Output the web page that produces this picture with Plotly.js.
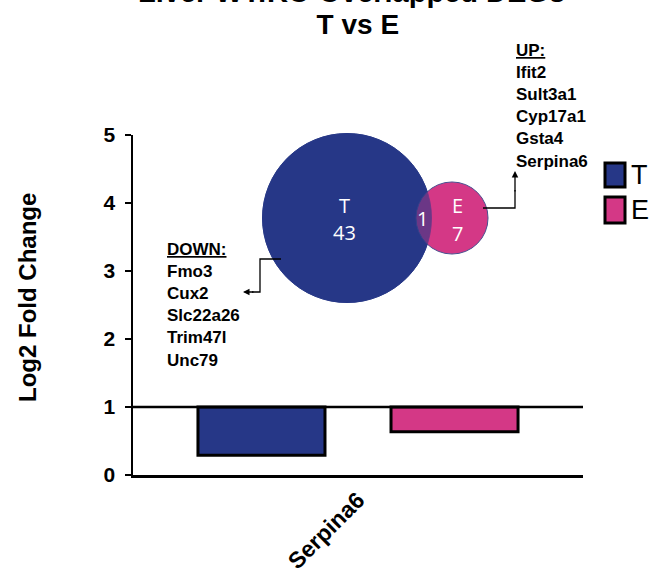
<!DOCTYPE html>
<html>
<head>
<meta charset="utf-8">
<script src="https://cdn.plot.ly/plotly-3.0.1.min.js"></script>
<style>html,body{margin:0;padding:0;background:#fff;}#chart{width:653px;height:574px;}</style>
</head>
<body>
<div id="chart"></div>
<script>
// ---- data ----
const categories = ['Serpina6'];
const seriesNames = ['T', 'E'];
const tValues = [0.29];
const eValues = [0.635];
const baselineValue = 1;
const yTickVals = [0, 1, 2, 3, 4, 5];
const vennOnly = [43, 7];
const vennOverlap = 1;
const upGenes = ['Ifit2', 'Sult3a1', 'Cyp17a1', 'Gsta4', 'Serpina6'];
const downGenes = ['Fmo3', 'Cux2', 'Slc22a26', 'Trim47l', 'Unc79'];
const titleLine1 = 'Liver WT:KO Overlapped DEGs';
const titleLine2 = 'T vs E';
const yTitle = 'Log2 Fold Change';

// ---- style ----
const navy = '#263787';
const pink = '#d43886';
const bold = 'Liberation Sans, Arial, sans-serif';
const M = {l: 133, r: 70, t: 135, b: 99};
const W = 653 - M.l - M.r, H = 574 - M.t - M.b;
const pxX = p => (p - M.l) / W;
const pxY = p => (574 - M.b - p) / H;

const traces = [
  {type: 'bar', name: seriesNames[0], x: categories, base: tValues, y: tValues.map(v => baselineValue - v),
   marker: {color: navy, line: {color: '#000', width: 3}}, showlegend: false, hoverinfo: 'skip'},
  {type: 'bar', name: seriesNames[1], x: categories, base: eValues, y: eValues.map(v => baselineValue - v),
   marker: {color: pink, line: {color: '#000', width: 3}}, showlegend: false, hoverinfo: 'skip'}
];

// venn radii proportional to sqrt of set size
const k = 84.5 / Math.sqrt(vennOnly[0] + vennOverlap);
const rT = k * Math.sqrt(vennOnly[0] + vennOverlap);
const rE = k * Math.sqrt(vennOnly[1] + vennOverlap);
const cT = [347, 218], cE = [452, 218];
function circ(c, r, fill, line, lw, op) {
  return {type: 'circle', xref: 'paper', yref: 'paper', xsizemode: 'pixel', ysizemode: 'pixel',
    xanchor: pxX(c[0]), yanchor: pxY(c[1]), x0: -r, x1: r, y0: -r, y1: r,
    fillcolor: fill, opacity: op, line: {color: line, width: lw}};
}
function rect(x0, y0, x1, y1, fill) {
  return {type: 'rect', xref: 'paper', yref: 'paper', x0: pxX(x0), x1: pxX(x1), y0: pxY(y0), y1: pxY(y1),
    fillcolor: fill, line: {color: '#000', width: 3}};
}
function path(pts) {
  return {type: 'path', xref: 'paper', yref: 'paper',
    path: pts.map((p, i) => (i ? 'L' : 'M') + pxX(p[0]) + ',' + pxY(p[1])).join(' '),
    line: {color: '#000', width: 1.3}};
}

const shapes = [
  {type: 'line', xref: 'paper', yref: 'y', x0: 0, x1: 1, y0: baselineValue, y1: baselineValue,
   line: {color: '#000', width: 2.5}, layer: 'above'},
  circ(cT, rT, navy, navy, 1, 1),
  circ(cE, rE, pink, '#4a4f8f', 1, 1),
  circ(cT, rT, navy, navy, 0.8, 0.6),
  path([[483, 208], [515, 208], [515, 190]]),
  path([[281, 259], [260, 259], [260, 292], [252, 292]]),
  rect(605, 163, 625, 187, navy),
  rect(605, 197, 625, 223, pink)
];

function txt(t, x, y, size, color, family, extra) {
  return Object.assign({text: t, xref: 'paper', yref: 'paper', x: pxX(x), y: pxY(y), showarrow: false,
    xanchor: 'center', yanchor: 'middle',
    font: {size: size, color: color, family: family}}, extra || {});
}
const vf = 'Open Sans, sans-serif';
const annotations = [
  txt('<b>' + titleLine1 + '</b>', 351, -8, 29, '#000', bold),
  txt('<b>' + yTitle + '</b>', 27, 298, 24, '#000', bold, {textangle: -90}),
  txt(seriesNames[0], 344, 205, 20, '#fff', vf),
  txt(String(vennOnly[0]), 344, 232, 20, '#fff', vf),
  txt(String(vennOverlap), 422, 218, 20, '#fff', vf),
  txt(seriesNames[1], 457, 205, 20, '#fff', vf),
  txt(String(vennOnly[1]), 457, 233, 20, '#fff', vf),
  txt('<b><u>UP:</u><br>' + upGenes.join('<br>') + '</b>', 514, 106, 17, '#000', bold, {xanchor: 'left', align: 'left'}),
  txt('<b><u>DOWN:</u><br>' + downGenes.join('<br>') + '</b>', 165, 305, 17, '#000', bold, {xanchor: 'left', align: 'left'}),
  txt(seriesNames[0], 629, 175, 27, '#000', bold, {xanchor: 'left'}),
  txt(seriesNames[1], 629, 210, 27, '#000', bold, {xanchor: 'left'}),
  {text: '', xref: 'paper', yref: 'paper', x: pxX(515), y: pxY(171), showarrow: true, axref: 'pixel', ayref: 'pixel',
   ax: 0, ay: 22, arrowhead: 2, arrowsize: 1, arrowwidth: 1.3, arrowcolor: '#000'},
  {text: '', xref: 'paper', yref: 'paper', x: pxX(243), y: pxY(292), showarrow: true, axref: 'pixel', ayref: 'pixel',
   ax: 12, ay: 0, arrowhead: 2, arrowsize: 1, arrowwidth: 1.3, arrowcolor: '#000'}
];

const layout = {
  width: 653, height: 574,
  margin: M,
  paper_bgcolor: '#fff', plot_bgcolor: '#fff',
  title: {text: '<b>' + titleLine2 + '</b>', font: {family: bold, size: 28, color: '#000'},
    x: 0.548, xanchor: 'center', y: 1 - 24 / 574, yanchor: 'middle', yref: 'container'},
  barmode: 'group', bargap: 0.142, bargroupgap: 0.342,
  showlegend: false,
  xaxis: {type: 'category', range: [-0.5, 0.5], showline: true, linecolor: '#000', linewidth: 2.5,
    ticks: '', showgrid: false, zeroline: false, tickangle: -45,
    tickfont: {family: bold, size: 23, color: '#000', weight: 'bold'}},
  yaxis: {range: [0, 5], tickvals: yTickVals, showline: true, linecolor: '#000', linewidth: 2.5,
    ticks: 'outside', ticklen: 6, tickwidth: 2.5, tickcolor: '#000', showgrid: false, zeroline: false,
    ticklabelstandoff: 5,
    tickfont: {family: bold, size: 21, color: '#000', weight: 'bold'}},
  shapes: shapes,
  annotations: annotations
};

Plotly.newPlot('chart', traces, layout, {displayModeBar: false, staticPlot: true});
</script>
</body>
</html>
